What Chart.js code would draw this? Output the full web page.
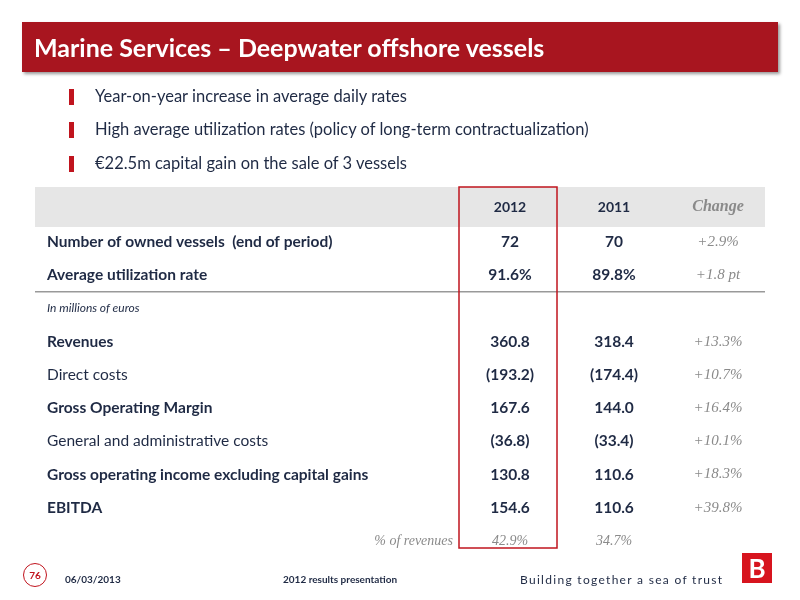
<!DOCTYPE html>
<html><head><meta charset="utf-8">
<script src="https://cdn.jsdelivr.net/npm/chart.js@4/dist/chart.umd.min.js"></script>
<style>
body{margin:0;background:#fff;font-family:Lato,"Open Sans",sans-serif;}
#wrap{position:relative;width:800px;height:600px;overflow:hidden}
#c{position:absolute;left:0;top:0}
.title{position:absolute;left:22px;top:22px;width:756px;height:50px;background:#a8151f;color:#fff;font-weight:bold;font-size:25px;line-height:50px;box-sizing:border-box;padding-left:12px;box-shadow:2px 2px 3px #999}
.b{position:absolute;left:95px;font-size:16.5px;color:#1f2a44}
.m{position:absolute;left:69px;width:5px;height:16px;background:#c0141e}
.f{position:absolute;font-size:10px;color:#1f2a44;font-weight:bold}
</style></head><body><div id="wrap">
<canvas id="c" width="800" height="600"></canvas>
<div class="title">Marine Services – Deepwater offshore vessels</div>
<div class="m" style="top:89px"></div><div class="b" style="top:86px">Year-on-year increase in average daily rates</div>
<div class="m" style="top:122px"></div><div class="b" style="top:119px">High average utilization rates (policy of long-term contractualization)</div>
<div class="m" style="top:156px"></div><div class="b" style="top:153px">€22.5m capital gain on the sale of 3 vessels</div>
<div style="position:absolute;left:23px;top:563px;width:22px;height:22px;border-radius:50%;border:1.5px solid #c0141e;color:#c0141e;font-size:10px;font-weight:bold;text-align:center;line-height:22px">76</div>
<div class="f" style="left:65px;top:573px">06/03/2013</div>
<div class="f" style="left:283px;top:573px">2012 results presentation</div>
<div style="position:absolute;left:520px;top:572px;font-size:12px;letter-spacing:1.3px;color:#1f2a44">Building together a sea of trust</div>
<div style="position:absolute;left:742px;top:553px;width:30px;height:30px;background:#d7141e;color:#fff;font-weight:bold;font-size:26px;text-align:center;line-height:30px">B</div>
</div>
<script>
const columns=['2012','2011','Change'];
const rows=['Number of owned vessels  (end of period)','Average utilization rate','In millions of euros','Revenues','Direct costs','Gross Operating Margin','General and administrative costs','Gross operating income excluding capital gains','EBITDA','% of revenues'];
const boldRows=[true,true,false,true,false,true,false,true,true,false];
const values2012=['72','91.6%','','360.8','(193.2)','167.6','(36.8)','130.8','154.6','42.9%'];
const values2011=['70','89.8%','','318.4','(174.4)','144.0','(33.4)','110.6','110.6','34.7%'];
const changes=['+2.9%','+1.8 pt','','+13.3%','+10.7%','+16.4%','+10.1%','+18.3%','+39.8%',''];
const navy='#1f2a44';
const tablePlugin={id:'table',afterDraw(ch){
 const c=ch.ctx,x=ch.scales.x,y=ch.scales.y;
 const hTop=187,hBot=227;
 c.save();
 c.fillStyle='#e6e6e6';c.fillRect(35,hTop,730,hBot-hTop);
 c.textBaseline='middle';c.textAlign='center';
 const hy=(hTop+hBot)/2;
 c.fillStyle=navy;c.font='bold 14px Lato';
 c.fillText(columns[0],x.getPixelForValue(0),hy);c.fillText(columns[1],x.getPixelForValue(1),hy);
 c.fillStyle='#8a8a8a';c.font='italic bold 16px "Liberation Serif"';c.fillText(columns[2],x.getPixelForValue(2),hy);
 const sep=(y.getPixelForValue(1)+y.getPixelForValue(2))/2;
 c.strokeStyle='#999';c.lineWidth=1.5;c.beginPath();c.moveTo(35,sep);c.lineTo(765,sep);c.stroke();
 rows.forEach((r,i)=>{
  const py=y.getPixelForValue(i);
  if(i===2){c.textAlign='left';c.fillStyle=navy;c.font='italic 12px Lato';c.fillText(r,47,py);}
  else if(i===9){c.textAlign='right';c.fillStyle='#8a8a8a';c.font='italic 14px "Liberation Serif"';c.fillText(r,453,py);}
  else{c.textAlign='left';c.fillStyle=navy;c.font=(boldRows[i]?'bold ':'')+'15.5px Lato';c.fillText(r,47,py);}
  c.textAlign='center';
  if(i===9){c.font='italic 14px "Liberation Serif"';c.fillStyle='#8a8a8a';}
  else{c.font='bold 15.5px Lato';c.fillStyle=navy;}
  c.fillText(values2012[i],x.getPixelForValue(0),py);
  c.fillText(values2011[i],x.getPixelForValue(1),py);
  c.font='italic 15px "Liberation Serif"';c.fillStyle='#8a8a8a';
  c.fillText(changes[i],x.getPixelForValue(2),py);
 });
 const hw=(x.getPixelForValue(1)-x.getPixelForValue(0))/2;
 c.strokeStyle='#c0141e';c.lineWidth=1.5;
 c.strokeRect(x.getPixelForValue(0)-hw+1,hTop,2*hw-6,548-hTop);
 c.restore();
}};
new Chart(document.getElementById('c'),{type:'bar',
 data:{labels:columns,datasets:[{data:[],backgroundColor:'transparent'}]},
 options:{responsive:false,animation:false,events:[],
  layout:{padding:{left:458,right:30,top:242,bottom:59}},
  plugins:{legend:{display:false},tooltip:{enabled:false}},
  scales:{x:{type:'category',labels:columns,display:false},
          y:{type:'category',labels:rows,display:false,offset:false}}},
 plugins:[tablePlugin]});
</script></body></html>
